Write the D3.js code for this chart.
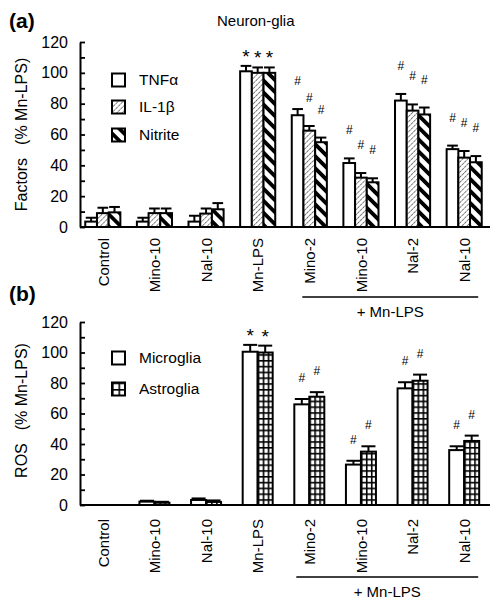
<!DOCTYPE html>
<html>
<head>
<meta charset="utf-8">
<script src="https://cdn.jsdelivr.net/npm/d3@7"></script>
<style>
  body { margin: 0; background: #fff; }
  svg { display: block; }
  text { font-family: "Liberation Sans", Arial, sans-serif; fill: #000; }
</style>
</head>
<body>
<svg id="chart" width="500" height="605"></svg>
<script>
// ---------- DATA ----------
const categories = ["Control", "Mino-10", "Nal-10", "Mn-LPS", "Mino-2", "Mino-10", "Nal-2", "Nal-10"];
const yTicks = [0, 20, 40, 60, 80, 100, 120];

// Panel (a) Neuron-glia
const seriesA = ["TNFα", "IL-1β", "Nitrite"];
const tnf        = [3.5, 3.5, 3.5, 101, 72.5, 41.5, 82, 50.5];
const tnfErr     = [2.5, 2.5, 3.8, 3.5, 4, 3, 4.3, 2.3];
const il1b       = [9, 9, 8.7, 100, 62.5, 32, 75.5, 45];
const il1bErr    = [3.5, 3, 3.3, 3.5, 3, 3, 4, 4.3];
const nitrite    = [9.5, 9, 11.5, 100, 55, 29, 73, 42];
const nitriteErr = [3.5, 3, 4, 3.5, 3, 2.6, 4.5, 4];
const marksA     = ["", "", "", "*", "#", "#", "#", "#"];

// Panel (b) ROS
const seriesB = ["Microglia", "Astroglia"];
const micro     = [0, 2.2, 3.3, 100.5, 66, 26.5, 76.5, 36];
const microErr  = [0, 0.6, 1, 4.5, 3.5, 2.5, 4, 2.5];
const astro     = [0, 1.5, 2, 100, 71, 35, 81.5, 42];
const astroErr  = [0, 0.6, 1, 4.5, 3, 3.5, 4, 3.5];
const marksB    = ["", "", "", "*", "#", "#", "#", "#"];

// ---------- DRAW ----------
const svg = d3.select("#chart");
const defs = svg.append("defs");

// IL-1β thin hatch "/"
const pIL = defs.append("pattern").attr("id", "pIL").attr("patternUnits", "userSpaceOnUse")
  .attr("width", 3.6).attr("height", 3.6).attr("patternTransform", "rotate(45)");
pIL.append("rect").attr("width", 3.6).attr("height", 3.6).attr("fill", "#fff");
pIL.append("line").attr("x1", 0).attr("y1", 0).attr("x2", 0).attr("y2", 3.6)
  .attr("stroke", "#333").attr("stroke-width", 1.3).attr("stroke-dasharray", "2.4,0.8");

// Nitrite thick stripes "\"
const pNi = defs.append("pattern").attr("id", "pNi").attr("patternUnits", "userSpaceOnUse")
  .attr("width", 8.5).attr("height", 8.5).attr("patternTransform", "rotate(-45)");
pNi.append("rect").attr("width", 8.5).attr("height", 8.5).attr("fill", "#fff");
pNi.append("rect").attr("x", 0).attr("y", 0).attr("width", 3.8).attr("height", 8.5).attr("fill", "#000");

const fillA = ["#fff", "url(#pIL)", "url(#pNi)"];

const x = d3.scaleBand().domain(d3.range(categories.length)).range([77, 490]);
const cx = i => x(i) + x.bandwidth() / 2;

function gridPattern(id, px, py, w, h) {
  const p = defs.append("pattern").attr("id", id).attr("patternUnits", "userSpaceOnUse")
    .attr("x", px).attr("y", py).attr("width", w).attr("height", h);
  p.append("rect").attr("width", w).attr("height", h).attr("fill", "#fff");
  p.append("line").attr("x1", 0).attr("y1", 0).attr("x2", 0).attr("y2", h).attr("stroke", "#000").attr("stroke-width", 3.2);
  p.append("line").attr("x1", 0).attr("y1", 0).attr("x2", w).attr("y2", 0).attr("stroke", "#000").attr("stroke-width", 3.2);
}

function drawPanel(opts) {
  const { y, series, values, errs, fills, marks, label, tag, title, legendY, markOffset, labelTop, bracketY, barW, grid } = opts;
  const g = svg.append("g");
  const base = y(0);

  // tag
  g.append("text").attr("x", 9).attr("y", tag.y).attr("font-size", 21).attr("font-weight", "bold").text(tag.t);
  if (title) g.append("text").attr("x", 217).attr("y", 26).attr("font-size", 15).text(title);

  // y axis
  const axis = d3.axisLeft(y).tickValues(d3.range(0, 121, 10)).tickSize(-5).tickSizeOuter(0).tickPadding(12)
    .tickFormat(d => yTicks.includes(d) ? d : "");
  const ag = g.append("g").attr("transform", "translate(80,0)").call(axis);
  ag.select(".domain").attr("stroke-width", 2);
  ag.selectAll(".tick line").attr("stroke-width", 1.8);
  ag.selectAll(".tick text").attr("font-size", 16).attr("font-family", "Liberation Sans, Arial, sans-serif");

  // y label
  const midY = (y(0) + y(120)) / 2 + label.shift;
  const yl = g.append("text").attr("transform", `translate(21,${midY}) rotate(-90)`).attr("text-anchor", "middle")
    .attr("dy", "0.35em").attr("font-size", 16);
  yl.append("tspan").text(label.a);
  yl.append("tspan").attr("dx", 13).text("(% Mn-LPS)");

  // x axis baseline
  g.append("line").attr("x1", 80).attr("x2", 490).attr("y1", base).attr("y2", base).attr("stroke", "#000").attr("stroke-width", 2);

  // bars
  const inner = d3.scaleBand().domain(d3.range(series.length)).range([-barW * series.length / 2, barW * series.length / 2]);
  series.forEach((s, si) => {
    categories.forEach((c, i) => {
      const v = values[si][i];
      if (v <= 0) return;
      const bx = cx(i) + inner(si);
      const top = y(v);
      let fill = fills[si];
      if (grid && si === 1) {
        const id = `grid-${i}`;
        gridPattern(id, bx, base, barW / 3, 5.8);
        fill = `url(#${id})`;
      }
      const e = errs[si][i];
      const et = y(v + e);
      g.append("line").attr("x1", bx + barW / 2).attr("x2", bx + barW / 2).attr("y1", top).attr("y2", et)
        .attr("stroke", "#000").attr("stroke-width", 2);
      g.append("line").attr("x1", bx + 0.5).attr("x2", bx + barW - 0.5).attr("y1", et).attr("y2", et)
        .attr("stroke", "#000").attr("stroke-width", 2);
      g.append("rect").attr("x", bx).attr("y", top).attr("width", barW).attr("height", base - top)
        .attr("fill", fill).attr("stroke", "#000").attr("stroke-width", 2);
      const m = marks[i];
      if (m) {
        const isStar = m === "*";
        g.append("text").attr("x", bx + barW / 2).attr("y", isStar ? et - 3 : et - markOffset)
          .attr("text-anchor", "middle").attr("font-size", isStar ? 19 : 12).text(m);
      }
    });
  });

  // category labels
  categories.forEach((c, i) => {
    g.append("text").attr("transform", `translate(${cx(i) + 0.5},${labelTop}) rotate(-90)`)
      .attr("text-anchor", "end").attr("dy", "0.35em").attr("font-size", 15).text(c);
  });

  // + Mn-LPS bracket
  g.append("line").attr("x1", cx(4) - bracketY.l).attr("x2", cx(7) + 14).attr("y1", bracketY.y).attr("y2", bracketY.y)
    .attr("stroke", "#000").attr("stroke-width", 1.5);
  g.append("text").attr("x", (cx(4) - bracketY.l + cx(7) + 14) / 2).attr("y", bracketY.y + 20)
    .attr("text-anchor", "middle").attr("font-size", 15).text("+ Mn-LPS");

  // legend
  series.forEach((s, si) => {
    const ly = legendY[si];
    let fill = fills[si];
    if (grid && si === 1) {
      gridPattern("grid-leg", 112, ly - 6.5, 6.5, 6.5);
      fill = "url(#grid-leg)";
    }
    g.append("rect").attr("x", 112).attr("y", ly - 6.5).attr("width", 13).attr("height", 13)
      .attr("fill", fill).attr("stroke", "#000").attr("stroke-width", 2);
    g.append("text").attr("x", 139).attr("y", ly).attr("dy", "0.35em").attr("font-size", 15.5).text(s);
  });
}

drawPanel({
  y: d3.scaleLinear().domain([0, 120]).range([227, 42]),
  series: seriesA, values: [tnf, il1b, nitrite], errs: [tnfErr, il1bErr, nitriteErr],
  fills: fillA, marks: marksA, label: { a: "Factors", shift: 0 },
  tag: { t: "(a)", y: 28 }, title: "Neuron-glia", legendY: [80, 107, 135],
  markOffset: 24, labelTop: 238, bracketY: { y: 297, l: 7 }, barW: 11.7, grid: false
});

drawPanel({
  y: d3.scaleLinear().domain([0, 120]).range([505, 322]),
  series: seriesB, values: [micro, astro], errs: [microErr, astroErr],
  fills: ["#fff", "#fff"], marks: marksB, label: { a: "ROS", shift: -3 },
  tag: { t: "(b)", y: 301 }, title: null, legendY: [358, 389],
  markOffset: 17, labelTop: 519, bracketY: { y: 577, l: 13 }, barW: 15, grid: true
});
</script>
</body>
</html>
